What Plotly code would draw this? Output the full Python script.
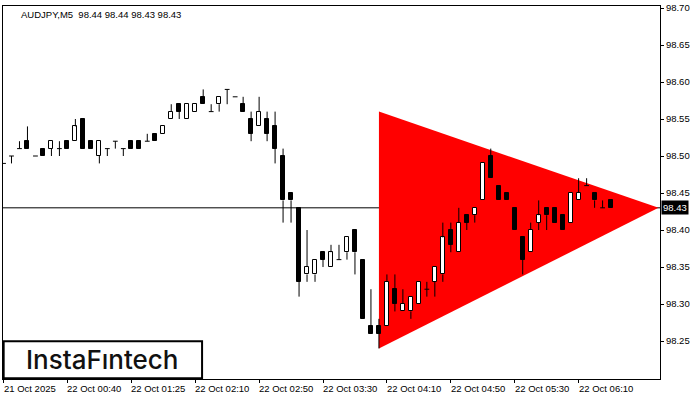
import plotly.graph_objects as go

# AUDJPY M5 candles (bar index 0 = leftmost bar)
bar_open = [98.49, 98.50, 98.51, 98.52, 98.50, 98.51, 98.51, 98.51, 98.52, 98.52,
            98.55, 98.52, 98.50, 98.51, 98.52, 98.51, 98.52, 98.52, 98.52, 98.53,
            98.53, 98.55, 98.57, 98.55, 98.56, 98.58, 98.56, 98.57, 98.59, 98.58,
            98.57, 98.55, 98.54, 98.55, 98.54, 98.50, 98.45, 98.43, 98.34, 98.34,
            98.37, 98.35, 98.36, 98.37, 98.40, 98.36, 98.27, 98.27, 98.27, 98.32,
            98.29, 98.29, 98.30, 98.32, 98.33, 98.34, 98.40, 98.37, 98.42, 98.42,
            98.44, 98.50, 98.46, 98.45, 98.43, 98.39, 98.37, 98.41, 98.43, 98.43,
            98.42, 98.41, 98.44, 98.46, 98.45, 98.43, 98.44]
bar_high = [98.49, 98.50, 98.52, 98.54, 98.50, 98.51, 98.52, 98.52, 98.52, 98.55,
            98.55, 98.52, 98.52, 98.51, 98.52, 98.51, 98.52, 98.52, 98.53, 98.53,
            98.54, 98.57, 98.57, 98.57, 98.57, 98.59, 98.57, 98.58, 98.59, 98.58,
            98.58, 98.56, 98.58, 98.56, 98.56, 98.51, 98.45, 98.43, 98.40, 98.36,
            98.37, 98.38, 98.38, 98.39, 98.40, 98.36, 98.32, 98.28, 98.34, 98.34,
            98.32, 98.31, 98.33, 98.33, 98.35, 98.41, 98.41, 98.43, 98.42, 98.43,
            98.49, 98.51, 98.46, 98.45, 98.43, 98.39, 98.41, 98.44, 98.43, 98.43,
            98.42, 98.45, 98.47, 98.47, 98.45, 98.44, 98.44]
bar_low = [98.49, 98.49, 98.51, 98.51, 98.50, 98.50, 98.50, 98.50, 98.51, 98.52,
           98.51, 98.51, 98.49, 98.50, 98.51, 98.50, 98.51, 98.51, 98.52, 98.52,
           98.53, 98.55, 98.55, 98.55, 98.56, 98.57, 98.56, 98.56, 98.57, 98.58,
           98.56, 98.52, 98.54, 98.52, 98.49, 98.41, 98.41, 98.31, 98.33, 98.33,
           98.35, 98.35, 98.36, 98.36, 98.34, 98.28, 98.26, 98.24, 98.27, 98.29,
           98.29, 98.28, 98.30, 98.31, 98.31, 98.33, 98.37, 98.37, 98.40, 98.41,
           98.44, 98.47, 98.44, 98.44, 98.40, 98.34, 98.37, 98.40, 98.40, 98.41,
           98.40, 98.41, 98.44, 98.46, 98.43, 98.43, 98.43]
bar_close = [98.49, 98.50, 98.51, 98.51, 98.50, 98.50, 98.52, 98.51, 98.51, 98.54,
             98.51, 98.51, 98.52, 98.51, 98.52, 98.51, 98.51, 98.51, 98.52, 98.52,
             98.54, 98.56, 98.56, 98.57, 98.57, 98.57, 98.56, 98.58, 98.59, 98.58,
             98.56, 98.53, 98.56, 98.53, 98.51, 98.44, 98.44, 98.33, 98.35, 98.36,
             98.36, 98.37, 98.36, 98.39, 98.37, 98.28, 98.26, 98.26, 98.33, 98.30,
             98.30, 98.31, 98.33, 98.32, 98.35, 98.39, 98.38, 98.41, 98.41, 98.43,
             98.49, 98.47, 98.44, 98.44, 98.40, 98.36, 98.40, 98.42, 98.42, 98.41,
             98.40, 98.45, 98.45, 98.46, 98.44, 98.43, 98.43]

tick_idx = [0, 8, 16, 24, 32, 40, 48, 56, 64, 72]
tick_text = ["21 Oct 2025", "22 Oct 00:40", "22 Oct 01:25", "22 Oct 02:10",
             "22 Oct 02:50", "22 Oct 03:30", "22 Oct 04:10", "22 Oct 04:50",
             "22 Oct 05:30", "22 Oct 06:10"]
price_ticks = [98.25, 98.30, 98.35, 98.40, 98.45, 98.50, 98.55, 98.60, 98.65, 98.70]
last_price = 98.43
header = "AUDJPY,M5  98.44 98.44 98.43 98.43"

# bearish symmetrical triangle
tri_x = [47, 47, 82]
tri_y = [98.56, 98.24, 98.43]

FONT = "Liberation Sans"
BODY_W = 0.5
DOJI_HALF = 0.3

n = len(bar_open)
body_x, body_base, body_h, body_fill = [], [], [], []
wick_x, wick_y = [], []
for i in range(n):
    o, h, l, c = bar_open[i], bar_high[i], bar_low[i], bar_close[i]
    top, bot = max(o, c), min(o, c)
    if abs(o - c) < 1e-9:
        # doji: flat body line plus full wick
        wick_x += [i - DOJI_HALF, i + DOJI_HALF, None]
        wick_y += [o, o, None]
        if h - l > 1e-9:
            wick_x += [i, i, None]
            wick_y += [l, h, None]
        continue
    body_x.append(i)
    body_base.append(bot)
    body_h.append(top - bot)
    body_fill.append("white" if c > o else "black")
    if h > top:
        wick_x += [i, i, None]
        wick_y += [top, h, None]
    if l < bot:
        wick_x += [i, i, None]
        wick_y += [bot, l, None]

fig = go.Figure()
fig.add_trace(go.Bar(
    x=body_x, y=body_h, base=body_base, width=BODY_W,
    marker=dict(color=body_fill, line=dict(color="black", width=1)),
    hoverinfo="skip", showlegend=False,
))
fig.add_trace(go.Scatter(
    x=wick_x, y=wick_y, mode="lines",
    line=dict(color="black", width=1),
    hoverinfo="skip", showlegend=False,
))

tri_path = "M " + " L ".join(f"{x},{y}" for x, y in zip(tri_x, tri_y)) + " Z"
fig.add_shape(type="path", path=tri_path, xref="x", yref="y",
              fillcolor="#ff0000", line=dict(width=0), layer="below")
fig.add_shape(type="line", xref="paper", x0=0, x1=1, yref="y",
              y0=last_price, y1=last_price,
              line=dict(color="black", width=1), layer="below")

# logo box
fig.add_shape(type="rect", xref="paper", yref="paper",
              x0=0.001, x1=0.303, y0=0.002, y1=0.101,
              fillcolor="white", line=dict(color="black", width=2), layer="above")
fig.add_annotation(text="InstaF\u0131ntech", xref="paper", yref="paper",
                   x=0.151, y=0.053, xanchor="center", yanchor="middle",
                   showarrow=False,
                   font=dict(family="Inter", size=26, color="#111111", weight=500))

fig.add_annotation(text=header, xref="paper", yref="paper",
                   x=0.025, y=0.976, xanchor="left", yanchor="middle",
                   showarrow=False, font=dict(family=FONT, size=9.5, color="black"))

for ti, tt in zip(tick_idx, tick_text):
    fig.add_annotation(text=tt, x=ti, xref="x", y=0, yref="paper",
                       xanchor="left", yanchor="top", xshift=-2, yshift=-2,
                       showarrow=False, font=dict(family=FONT, size=9.5, color="black"))

fig.add_annotation(text=f"{last_price:.2f}", x=1, xref="paper", y=last_price, yref="y",
                   xanchor="left", yanchor="middle", xshift=1, showarrow=False,
                   bgcolor="black", borderpad=1,
                   font=dict(family=FONT, size=9.5, color="white"))

x_min = -0.0625
y_max = 98.7027
fig.update_layout(
    width=700, height=400,
    margin=dict(l=2, r=40, t=2, b=21),
    paper_bgcolor="white", plot_bgcolor="white",
    bargap=0, showlegend=False,
    xaxis=dict(range=[x_min, x_min + 658 / 8], showgrid=False, zeroline=False,
               showline=True, linecolor="black", linewidth=1, mirror=True,
               ticks="outside", ticklen=3, tickcolor="black",
               tickvals=tick_idx, showticklabels=False, fixedrange=True),
    yaxis=dict(range=[y_max - 0.504, y_max], side="right", showgrid=False, zeroline=False,
               showline=True, linecolor="black", linewidth=1, mirror=True,
               ticks="outside", ticklen=3, tickcolor="black",
               tickvals=price_ticks, ticktext=[f"{p:.2f}" for p in price_ticks],
               ticklabeloverflow="allow",
               tickfont=dict(family=FONT, size=9.5, color="black"), fixedrange=True),
)

fig.write_html("out.html", config={"displayModeBar": False},
               post_script="document.body.style.margin='0px';")
